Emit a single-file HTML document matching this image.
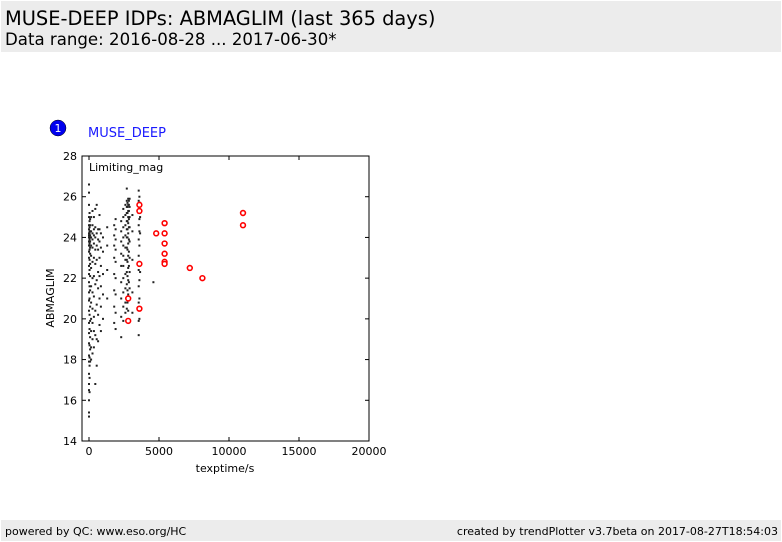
<!DOCTYPE html>
<html><head><meta charset="utf-8"><style>
body{margin:0;width:782px;height:542px;background:#fff;font-family:"DejaVu Sans","Liberation Sans",sans-serif;position:relative;overflow:hidden}
.hdr{position:absolute;left:1px;top:1px;width:780px;height:51px;background:#ececec}
.t1{position:absolute;left:4px;top:6px;font-size:19.4px;color:#000}
.t2{position:absolute;left:4px;top:29px;font-size:16.6px;color:#000}
.ftr{position:absolute;left:1px;top:520px;width:780px;height:21px;background:#ececec;font-size:11px}
</style></head><body>
<div class="hdr">
<div class="t1">MUSE-DEEP IDPs: ABMAGLIM (last 365 days)</div>
<div class="t2">Data range: 2016-08-28 ... 2017-06-30*</div>
</div>
<svg width="782" height="542" style="position:absolute;left:0;top:0" id="chart">
<circle cx="58" cy="128" r="8" fill="#0000ee" stroke="#000" stroke-width="0.5"/>
<text x="58" y="132" font-size="11" fill="#fff" text-anchor="middle" font-family="DejaVu Sans">1</text>
<text x="88" y="137" font-size="13" fill="#1a1aff" font-family="DejaVu Sans">MUSE_DEEP</text>
<g id="marks"></g>
<rect x="82" y="156" width="287" height="285" fill="none" stroke="#000" stroke-width="1"/>
<text x="89" y="171" font-size="11" font-family="DejaVu Sans">Limiting_mag</text>
<g id="axes" font-size="11" font-family="DejaVu Sans"></g>
<text x="225" y="472" font-size="11" text-anchor="middle" font-family="DejaVu Sans">texptime/s</text>
<text x="54" y="298" font-size="11" text-anchor="middle" font-family="DejaVu Sans" transform="rotate(-90 54 298)">ABMAGLIM</text>
</svg>
<div class="ftr">
<span style="position:absolute;left:4px;top:5px">powered by QC: www.eso.org/HC</span>
<span style="position:absolute;right:3px;top:5px">created by trendPlotter v3.7beta on 2017-08-27T18:54:03</span>
</div>
<script>
const xTicks=[0,5000,10000,15000,20000];
const yTicks=[14,16,18,20,22,24,26,28];
const colTexp=[0,40,80,150,250,350,450,550,650,750,850,1000,1300,1800,1900,2300,2450,2600,2700,2750,2800,2850,2900,3100,3550,3600,3650,4600];
const colMags=[
[15.2,15.4,16.0,16.5,16.8,17.3,17.9,18.2,18.8,19.3,19.8,20.4,20.9,21.3,21.8,22.2,22.6,23.0,23.3,23.6,23.8,24.0,24.1,24.2,24.4,24.6,25.0,25.6,26.2,26.6],
[16.4,17.1,17.7,18.1,18.7,19.5,20.2,21.0,21.6,22.4,22.9,23.4,23.7,23.9,24.0,24.2,24.3,24.5,24.8,25.2],
[17.9,18.5,19.1,19.9,20.6,21.4,22.1,22.7,23.2,23.5,23.8,24.0,24.1,24.3,24.6,24.9],
[18.0,18.6,19.4,20.0,20.8,21.6,22.5,23.1,23.6,24.0,24.3,25.0],
[18.3,19.0,19.8,20.5,21.3,22.0,22.8,23.5,23.9,24.2,24.6,25.3],
[18.6,19.4,20.1,21.1,22.1,23.0,23.7,24.1,24.4,25.0],
[16.8,19.2,20.4,21.7,22.7,23.4,24.0,24.5,25.4],
[17.7,19.0,20.7,21.9,22.9,23.6,24.2,25.6],
[18.9,20.2,21.5,22.3,23.4,23.9,24.4],
[19.7,21.0,22.1,23.0,23.8,24.4,25.1],
[19.4,20.6,21.6,22.6,23.5,24.2],
[20.0,21.2,22.2,23.3,24.0],
[21.0,22.4,23.6,24.5],
[19.8,20.6,21.4,22.2,23.0,23.6,24.1,24.6],
[19.5,20.3,21.2,22.0,22.8,23.4,23.9,24.4,24.9],
[19.1,20.1,21.0,21.8,22.6,23.2,23.8,24.3,24.8],
[19.9,20.6,21.3,22.0,22.6,23.1,23.6,24.0,24.5,25.0,25.4],
[20.3,20.8,21.5,22.2,22.9,23.5,24.1,24.6,25.1,25.6],
[20.5,21.0,21.7,22.3,22.9,23.5,24.0,24.4,24.8,25.2,25.5,25.8,26.4],
[20.8,21.4,22.1,22.8,23.4,24.0,24.4,24.8,25.2,25.5,25.7],
[20.4,21.2,21.9,22.5,23.1,23.7,24.2,24.7,25.0,25.3,25.6,25.9],
[21.0,21.8,22.6,23.3,23.9,24.5,24.9,25.3,25.6,25.8],
[21.5,22.3,23.0,23.8,24.5,25.0,25.5,25.9],
[20.3,21.3,22.9,24.3,25.1],
[19.2,19.9,20.8,21.6,22.4,23.1,23.9,24.6,25.2,25.8,26.3],
[20.0,21.0,21.9,22.8,23.6,24.3,24.9,25.5,26.0],
[20.5,22.3,24.2,25.0,25.7],
[21.8]];
const redTexp=[2800,2800,3600,3600,3600,3600,4800,5400,5400,5400,5400,5400,5400,7200,8100,11000,11000];
const redMag=[21.0,19.9,25.6,25.3,22.7,20.5,24.2,24.7,24.2,23.7,23.2,22.8,22.7,22.5,22.0,25.2,24.6];
const X=v=>89+(v)*70/5000;
const Y=v=>441-(v-14)*285/14;
const NS="http://www.w3.org/2000/svg";
const marks=document.getElementById('marks'),axes=document.getElementById('axes');
colTexp.forEach((t,i)=>{colMags[i].forEach(m=>{
 const r=document.createElementNS(NS,'rect');
 r.setAttribute('x',X(t)-1);r.setAttribute('y',Y(m)-1);r.setAttribute('width',2);r.setAttribute('height',2);r.setAttribute('fill','#222');
 
 
 marks.appendChild(r);});});
redTexp.forEach((t,i)=>{
 const c=document.createElementNS(NS,'circle');
 c.setAttribute('cx',X(t));c.setAttribute('cy',Y(redMag[i]));c.setAttribute('r',2.4);c.setAttribute('fill','#fff');c.setAttribute('stroke','#f00');c.setAttribute('stroke-width',1.6);
 
 
 marks.appendChild(c);});
xTicks.forEach(t=>{
 const l=document.createElementNS(NS,'line');l.setAttribute('x1',X(t));l.setAttribute('x2',X(t));l.setAttribute('y1',441);l.setAttribute('y2',437);l.setAttribute('stroke','#000');axes.appendChild(l);
 const l2=document.createElementNS(NS,'line');l2.setAttribute('x1',X(t));l2.setAttribute('x2',X(t));l2.setAttribute('y1',156);l2.setAttribute('y2',160);l2.setAttribute('stroke','#000');axes.appendChild(l2);
 const tx=document.createElementNS(NS,'text');tx.setAttribute('x',X(t));tx.setAttribute('y',455);tx.setAttribute('text-anchor','middle');tx.textContent=t;
 
 
 axes.appendChild(tx);});
yTicks.forEach(t=>{
 const l=document.createElementNS(NS,'line');l.setAttribute('x1',82);l.setAttribute('x2',86);l.setAttribute('y1',Y(t));l.setAttribute('y2',Y(t));l.setAttribute('stroke','#000');axes.appendChild(l);
 const l2=document.createElementNS(NS,'line');l2.setAttribute('x1',365);l2.setAttribute('x2',369);l2.setAttribute('y1',Y(t));l2.setAttribute('y2',Y(t));l2.setAttribute('stroke','#000');axes.appendChild(l2);
 const tx=document.createElementNS(NS,'text');tx.setAttribute('x',77);tx.setAttribute('y',Y(t)+4);tx.setAttribute('text-anchor','end');tx.textContent=t;
 
 
 axes.appendChild(tx);});
</script>
</body></html>
